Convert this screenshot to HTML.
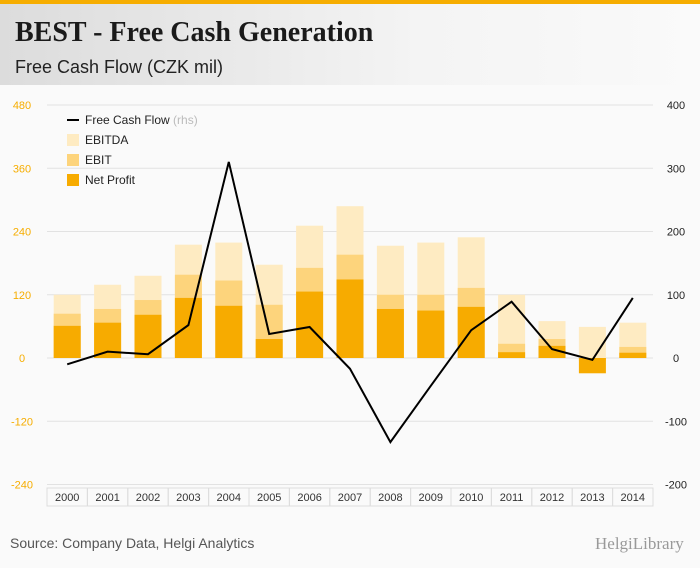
<!DOCTYPE html>
<html><head><meta charset="utf-8"><style>
body{margin:0;width:700px;height:568px;overflow:hidden;background:#fafafa;font-family:"Liberation Sans",sans-serif}
#hdr{position:absolute;left:0;top:0;width:700px;height:85px;background:linear-gradient(90deg,#dcdcdc,#f4f4f4 60%,#fafafa);border-top:4px solid #f6ad00;box-sizing:border-box}
#t1{position:absolute;left:15px;top:13px;font-family:"Liberation Serif",serif;font-weight:bold;font-size:28px;color:#1a1a1a}
#t2{position:absolute;left:15px;top:53px;font-size:18px;color:#222}
#src{position:absolute;left:10px;top:535px;font-size:14px;color:#555}
#logo{position:absolute;left:595px;top:534px;font-size:17px;color:#999;font-family:"Liberation Serif",serif}
</style></head><body>
<div id="hdr">
<div id="t1">BEST - Free Cash Generation</div>
<div id="t2">Free Cash Flow (CZK mil)</div></div>
<svg id="c" width="700" height="568" style="position:absolute;left:0;top:0"></svg>
<div id="src">Source: Company Data, Helgi Analytics</div>
<div id="logo">HelgiLibrary</div>
<script>
const years=["2000","2001","2002","2003","2004","2005","2006","2007","2008","2009","2010","2011","2012","2013","2014"];
const ebitda=[120,139,156,215,219,177,251,288,213,219,229,120,70,59,67];
const ebit=[84,93,110,158,147,101,171,196,120,120,133,27,36,-5,21];
const netProfit=[61,67,82,114,99,36,126,149,93,90,97,11,23,-29,10];
const fcf=[-10,10,6,52,310,38,49,-17,-133,-44,44,89,14,-3,95];
const leftTicks=[480,360,240,120,0,-120,-240];
const rightTicks=[400,300,200,100,0,-100,-200];
const NS="http://www.w3.org/2000/svg",svg=document.getElementById('c');
const x0=47,x1=653,yTop=105,yZero=358,yBot=484;
const step=(x1-x0)/years.length;
const xc=i=>x0+step*(i+0.5);
const yL=v=>yZero-v*(yZero-yTop)/480;
const yR=v=>yZero-v*(yZero-yTop)/400;
function mk(t,a,txt){const e=document.createElementNS(NS,t);for(const k in a)e.setAttribute(k,a[k]);if(txt!=null)e.textContent=txt;svg.appendChild(e);return e;}
leftTicks.forEach((v,i)=>{
 const g=mk('line',{x1:x0,x2:x1,y1:yL(v),y2:yL(v),stroke:'#e2e2e2'});
 
 
 const t=mk('text',{x:22,y:yL(v)+4,'text-anchor':'middle','font-size':11,fill:'#f6ad00'},v);
 
 
});
rightTicks.forEach(v=>{
 const t=mk('text',{x:676,y:yR(v)+4,'text-anchor':'middle','font-size':11,fill:'#222'},v);
 
 
});
const bw=27;
function bar(v,col,name,i){const y=Math.min(yL(0),yL(v)),h=Math.abs(yL(v)-yL(0));
 const r=mk('rect',{x:xc(i)-bw/2,y:y,width:bw,height:h,fill:col});
 
 }
years.forEach((yr,i)=>{
 bar(ebitda[i],'#feebc2','bar-ebitda',i);
 bar(ebit[i],'#fdd47c','bar-ebit',i);
 bar(netProfit[i],'#f7ab00','bar-net-profit',i);
 const b=mk('rect',{x:x0+step*i,y:488,width:step,height:18,fill:'none',stroke:'#ddd'});
 
 
 const t=mk('text',{x:xc(i),y:501,'text-anchor':'middle','font-size':11,fill:'#333'},yr);
 
 
});
const pl=mk('polyline',{points:fcf.map((v,i)=>xc(i)+','+yR(v)).join(' '),fill:'none',stroke:'#000','stroke-width':2});


const leg=[['line','#000','Free Cash Flow'],['sq','#feebc2','EBITDA'],['sq','#fdd47c','EBIT'],['sq','#f7ab00','Net Profit']];
leg.forEach((l,i)=>{const y=120+i*20;
 let m;
 if(l[0]=='line')m=mk('line',{x1:67,x2:79,y1:y,y2:y,stroke:'#000','stroke-width':2});
 else m=mk('rect',{x:67,y:y-6,width:12,height:12,fill:l[1]});
 
 
 const t=mk('text',{x:85,y:y+4,'font-size':12,fill:'#222'},l[2]);
 
 
 if(i==0){const s=document.createElementNS(NS,'tspan');s.setAttribute('fill','#bbb');s.textContent=' (rhs)';t.appendChild(s);}
});
</script>
</body></html>
